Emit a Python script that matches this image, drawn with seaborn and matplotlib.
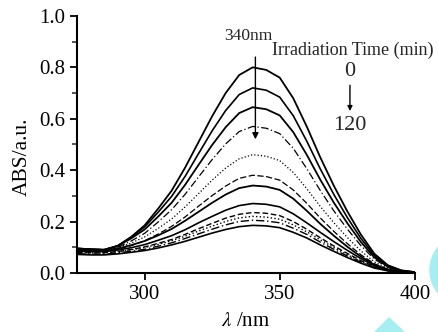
import numpy as np
import pandas as pd
import matplotlib
matplotlib.use("Agg")
import matplotlib.pyplot as plt
import seaborn as sns
from matplotlib.patches import Ellipse, Polygon

# Wavelength grid (nm) shared by all spectra
wavelength = [275, 280, 285, 290, 295, 300, 305, 310, 315, 320, 325, 330, 335,
              340, 345, 350, 355, 360, 365, 370, 375, 380, 385, 390, 395, 400]

# Absorbance, irradiation 0 -> 120 min
abs_01 = [.095, .092, .090, .105, .140, .185, .250, .320, .410, .510, .610, .700, .770,
          .800, .790, .760, .680, .570, .450, .340, .240, .150, .075, .030, .010, .003]
abs_02 = [.095, .092, .090, .105, .139, .179, .236, .298, .376, .465, .553, .632, .694,
          .720, .711, .684, .612, .513, .405, .306, .216, .135, .068, .027, .009, .003]
abs_03 = [.095, .092, .090, .105, .134, .169, .219, .273, .343, .421, .498, .567, .622,
          .645, .637, .613, .548, .460, .363, .274, .194, .121, .061, .024, .008, .003]
abs_04 = [.090, .088, .087, .100, .124, .154, .198, .246, .306, .374, .441, .502, .550,
          .570, .563, .542, .485, .406, .321, .242, .171, .107, .054, .021, .007, .002]
abs_05 = [.090, .088, .087, .098, .116, .140, .173, .210, .257, .309, .361, .408, .444,
          .460, .454, .437, .391, .328, .259, .196, .138, .086, .043, .017, .006, .002]
abs_06 = [.085, .083, .083, .091, .106, .125, .151, .181, .218, .260, .301, .338, .368,
          .380, .375, .361, .323, .271, .214, .162, .114, .071, .036, .014, .005, .002]
abs_07 = [.090, .088, .088, .095, .108, .124, .146, .171, .203, .238, .273, .305, .330,
          .340, .336, .323, .289, .242, .191, .145, .102, .064, .032, .013, .004, .001]
abs_08 = [.085, .083, .083, .089, .098, .110, .127, .145, .168, .195, .220, .244, .262,
          .270, .267, .257, .230, .195, .158, .122, .088, .056, .028, .011, .003, .001]
abs_09 = [.080, .078, .078, .083, .091, .101, .115, .130, .150, .172, .193, .213, .228,
          .235, .232, .223, .200, .170, .137, .105, .076, .048, .024, .010, .003, .001]
abs_10 = [.080, .078, .078, .083, .090, .099, .111, .125, .143, .163, .182, .200, .214,
          .220, .217, .209, .187, .160, .129, .099, .071, .045, .023, .009, .003, .001]
abs_11 = [.075, .073, .073, .078, .084, .092, .104, .117, .134, .152, .170, .187, .200,
          .205, .202, .195, .174, .150, .120, .092, .066, .042, .021, .009, .003, .001]
abs_12 = [.072, .070, .070, .074, .080, .087, .097, .109, .123, .139, .155, .169, .180,
          .185, .183, .176, .158, .136, .109, .084, .060, .038, .019, .008, .002, .001]

spectra = [abs_01, abs_02, abs_03, abs_04, abs_05, abs_06,
           abs_07, abs_08, abs_09, abs_10, abs_11, abs_12]
line_styles = ['-', '-', '-', (0, (6, 2, 1, 2)), ':', (0, (5, 2)),
               '-', '-', (0, (4, 2)), ':', (0, (6, 2, 1, 2)), '-']
line_widths = [1.3, 1.2, 1.3, 0.9, 0.9, 0.9, 1.3, 1.2, 1.0, 1.0, 1.0, 1.2]

sns.set_style("ticks")
plt.rcParams['font.family'] = ['Liberation Serif', 'DejaVu Serif']
plt.rcParams['mathtext.fontset'] = 'stix'

fig = plt.figure(figsize=(4.38, 3.32), dpi=100)
ax = fig.add_axes([0.176, 0.178, 0.771, 0.774])

for vals, ls, lw in zip(spectra, line_styles, line_widths):
    df = pd.DataFrame({'wl': wavelength, 'abs': vals})
    sns.lineplot(data=df, x='wl', y='abs', ax=ax, color='black',
                 linestyle=ls, linewidth=lw, estimator=None, sort=False)

for ln in ax.get_lines():
    ln.set_solid_joinstyle('round')
    ln.set_dash_joinstyle('round')

ax.set_xlim(275, 400)
ax.set_ylim(0, 1.0)
ax.set_xticks([300, 350, 400])
ax.set_yticks([0.0, 0.2, 0.4, 0.6, 0.8, 1.0])
ax.set_yticks(np.arange(0.1, 1.0, 0.2), minor=True)
ax.set_yticklabels(['0.0', '0.2', '0.4', '0.6', '0.8', '1.0'])
ax.tick_params(axis='both', which='major', labelsize=15, width=1.3, length=5,
               color='black', labelcolor='black')
ax.tick_params(axis='y', which='minor', width=1.1, length=3.5)
for s in ['left', 'bottom']:
    ax.spines[s].set_linewidth(1.5)
    ax.spines[s].set_color('black')
for s in ['top', 'right']:
    ax.spines[s].set_visible(False)

ax.set_xlabel(r'$\lambda$ /nm', fontsize=15, labelpad=6, color='black')
ax.set_ylabel('ABS/a.u.', fontsize=15.5, color='black')
ax.yaxis.set_label_coords(-0.135, 0.45)

# annotations
ax.text(338.5, 0.922, '340nm', fontsize=12.5, ha='center', va='center')
ax.annotate('', xy=(341, 0.52), xytext=(341, 0.84),
            arrowprops=dict(arrowstyle='-|>', color='black', lw=1.0,
                            mutation_scale=9, shrinkA=0, shrinkB=0))
ax.text(347, 0.866, 'Irradiation Time (min)', fontsize=13, ha='left', va='center')
ax.text(376, 0.785, '0', fontsize=16, ha='center', va='center')
ax.annotate('', xy=(376, 0.63), xytext=(376, 0.73),
            arrowprops=dict(arrowstyle='-|>', color='black', lw=1.0,
                            mutation_scale=7, shrinkA=0, shrinkB=0))
ax.text(376, 0.575, '120', fontsize=16, ha='center', va='center')

# cyan page decorations
fig.patches.append(Ellipse((456 / 438, 1 - 270 / 332), 52 / 438, 62 / 332,
                           transform=fig.transFigure, color='#a6eef2', zorder=0))
fig.patches.append(Polygon([(375 / 438, 0), (389 / 438, 1 - 318 / 332), (404 / 438, 0)],
                           closed=True, transform=fig.transFigure, color='#a6eef2', zorder=0))

fig.savefig('out.png', dpi=100)
